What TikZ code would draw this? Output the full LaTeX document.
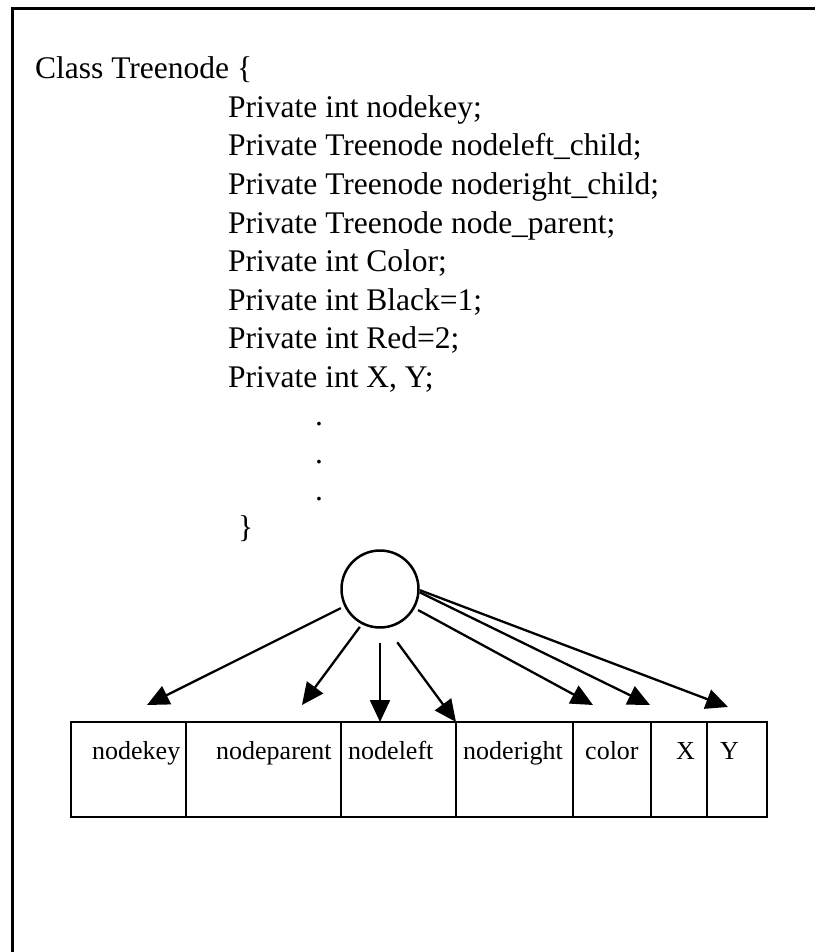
\documentclass[tikz,border=0pt]{standalone}
\usepackage{fontspec}
\setmainfont{Liberation Serif}
\usetikzlibrary{arrows.meta}
\begin{document}
\begin{tikzpicture}[x=1pt,y=-1pt,
  code/.style={anchor=base west, inner sep=0pt, font=\fontsize{31.5}{38.5}\selectfont},
  cell/.style={draw, line width=2pt, anchor=north west, minimum height=95pt, inner sep=0pt, outer sep=0pt},
  field/.style={anchor=base west, inner sep=0pt, font=\fontsize{26}{30}\selectfont},
  link/.style={line width=2.3pt, -{Triangle[length=22pt,width=20pt]}},
]
\useasboundingbox (0,0) rectangle (815,952);

% open frame: left and top edges only
\draw[line width=3pt] (12,952) -- (12,9) -- (815,9);

% class declaration
\node[code] (head) at (35,79) {Class Treenode \{};
\node[code] (m1) at (228,117.5) {Private int nodekey;};
\node[code] (m2) at (228,156) {Private Treenode nodeleft\_child;};
\node[code] (m3) at (228,194.5) {Private Treenode noderight\_child;};
\node[code] (m4) at (228,233) {Private Treenode node\_parent;};
\node[code] (m5) at (228,271.5) {Private int Color;};
\node[code] (m6) at (228,310) {Private int Black=1;};
\node[code] (m7) at (228,348.5) {Private int Red=2;};
\node[code] (m8) at (228,387) {Private int X, Y;};
\node[code, anchor=base] (d1) at (319,425) {.};
\node[code, anchor=base] (d2) at (319,463) {.};
\node[code, anchor=base] (d3) at (319,500) {.};
\node[code] (tail) at (238,537) {\}};

% the object
\node[draw, circle, line width=2.5pt, minimum size=77pt, inner sep=0pt, outer sep=0pt] (obj) at (380,589) {};

% record layout
\node[cell, minimum width=115pt] (c1) at (71,722) {};
\node[cell, minimum width=155pt] (c2) at (186,722) {};
\node[cell, minimum width=115pt] (c3) at (341,722) {};
\node[cell, minimum width=117pt] (c4) at (456,722) {};
\node[cell, minimum width=78pt]  (c5) at (573,722) {};
\node[cell, minimum width=56pt]  (c6) at (651,722) {};
\node[cell, minimum width=60pt]  (c7) at (707,722) {};

\node[field] (f1) at (92,759)  {nodekey};
\node[field] (f2) at (216,759) {nodeparent};
\node[field] (f3) at (348,759) {nodeleft};
\node[field] (f4) at (463,759) {noderight};
\node[field] (f5) at (585,759) {color};
\node[field] (f6) at (676,759) {X};
\node[field] (f7) at (720,759) {Y};

% arrow targets
\coordinate (t1) at (147,705);
\coordinate (t2) at (302,705);
\coordinate (t3) at (380,722);
\coordinate (t4) at (456,722);
\coordinate (t5) at (593,705);
\coordinate (t6) at (650,705);
\coordinate (t7) at (728,707);

\draw[link, shorten <=5pt]  (obj.206)   -- (t1);
\draw[link, shorten <=4.5pt] (obj.243.4) -- (t2);
\draw[link, shorten <=15pt] (obj.270)   -- (t3);
\draw[link, shorten <=19pt] (obj.279.3) -- (t4);
\draw[link, shorten <=5pt]  (obj.331)   -- (t5);
\draw[link, shorten <=1.5pt] (obj.356.6) -- (t6);
\draw[link, shorten <=1.5pt] (obj.359.4) -- (t7);
\end{tikzpicture}
\end{document}
